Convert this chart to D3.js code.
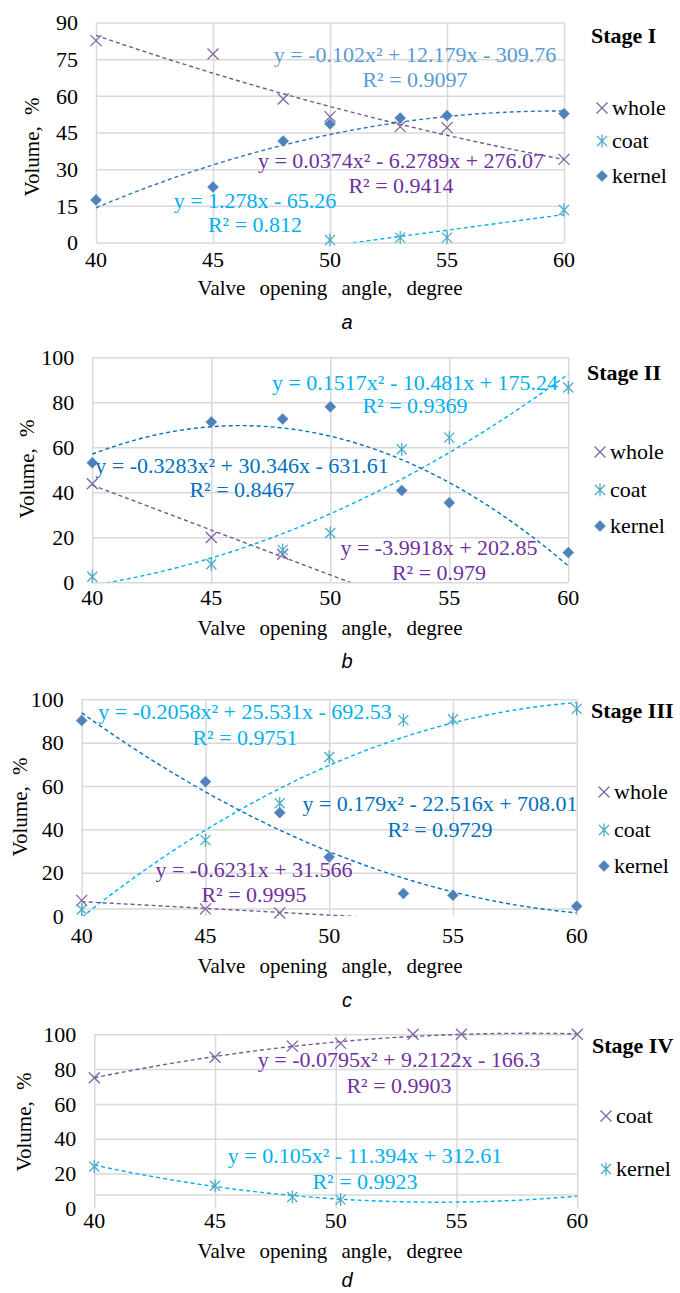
<!DOCTYPE html>
<html>
<head>
<meta charset="utf-8">
<script src="https://cdn.jsdelivr.net/npm/d3@7"></script>
<style>
  body { margin: 0; background: #fff; }
  svg { display: block; }
</style>
</head>
<body>
<svg id="chart" width="680" height="1293" font-family="'Liberation Serif', Tinos, 'Times New Roman', 'DejaVu Serif', serif"></svg>
<script>
// ---- data ----
const angles = [40, 45, 48, 50, 53, 55, 60];
const anglesIV = [40, 45, 48.2, 50.2, 53.2, 55.2, 60];
const xTicks = [40, 45, 50, 55, 60];
const yTicksI = [0, 15, 30, 45, 60, 75, 90];
const yTicks100 = [0, 20, 40, 60, 80, 100];

// Stage I
const wholeI = [82.6, 77.1, 58.7, 51.5, 47.4, 47.0, 34.0];
const coatI = [null, null, null, 1.0, 2.0, 2.0, 13.3];
const kernelI = [17.4, 22.7, 41.5, 48.5, 50.9, 51.9, 52.7];
// Stage II
const wholeII = [43.8, 19.9, 12.5, null, null, null, null];
const coatII = [2.5, 8.0, 14.4, 21.9, 59.1, 64.3, 86.6];
const kernelII = [53.1, 71.3, 72.6, 78.0, 40.8, 35.4, 13.2];
// Stage III
const wholeIII = [7.2, 3.3, 1.4, null, null, null, null];
const coatIII = [3.0, 35.0, 52.0, 73.4, 90.4, 90.8, 95.6];
const kernelIII = [90.2, 62.0, 47.7, 27.2, 10.4, 9.6, 4.5];
// Stage IV
const coatIV = [75.0, 86.8, 93.2, 94.8, 100, 100, 100];
const kernelIV = [24.0, 13.0, 6.5, 5.0, null, null, null];

// trendline coefficients [x², x, 1] and their printed labels
const fitWholeI = [0.0374, -6.2789, 276.07];
const fitCoatI = [0, 1.278, -65.26];
const fitKernelI = [-0.102, 12.179, -309.76];
const fitWholeII = [0, -3.9918, 202.85];
const fitCoatII = [0.1517, -10.481, 175.24];
const fitKernelII = [-0.3283, 30.346, -631.61];
const fitWholeIII = [0, -0.6231, 31.566];
const fitCoatIII = [-0.2058, 25.531, -692.53];
const fitKernelIII = [0.179, -22.516, 708.01];
const fitCoatIV = [-0.0795, 9.2122, -166.3];
const fitKernelIV = [0.105, -11.394, 312.61];

const eqWholeI = ["y = 0.0374x² - 6.2789x + 276.07", "R² = 0.9414"];
const eqCoatI = ["y = 1.278x - 65.26", "R² = 0.812"];
const eqKernelI = ["y = -0.102x² + 12.179x - 309.76", "R² = 0.9097"];
const eqWholeII = ["y = -3.9918x + 202.85", "R² = 0.979"];
const eqCoatII = ["y = 0.1517x² - 10.481x + 175.24", "R² = 0.9369"];
const eqKernelII = ["y = -0.3283x² + 30.346x - 631.61", "R² = 0.8467"];
const eqWholeIII = ["y = -0.6231x + 31.566", "R² = 0.9995"];
const eqCoatIII = ["y = -0.2058x² + 25.531x - 692.53", "R² = 0.9751"];
const eqKernelIII = ["y = 0.179x² - 22.516x + 708.01", "R² = 0.9729"];
const eqCoatIV = ["y = -0.0795x² + 9.2122x - 166.3", "R² = 0.9903"];
const eqKernelIV = ["y = 0.105x² - 11.394x + 312.61", "R² = 0.9923"];

// ---- styles ----
const PURPLE = "#8064A2", CYAN = "#4BACC6", BLUE = "#4F81BD";
const TR_PURPLE = "#6E5A96", TR_CYAN = "#00B0F0", TR_BLUE = "#0070C0";
const LB_PURPLE = "#7030A0", LB_CYAN = "#00B0F0", LB_BLUE = "#0070C0";
const GRID = "#D9D9D9";

const panels = [
  { stage: "Stage I", tag: "a", xs: angles, yMax: 90, yTicks: yTicksI,
    left: 96, right: 564, top: 22.5, zero: 242.5, extraLine: null,
    xLabY: 267, titleY: 295, tagY: 329, yTitle: [32, 147],
    stageXY: [591, 43], legX: 602,
    series: [
      { name: "whole", v: wholeI, m: "x", c: PURPLE, fit: fitWholeI, tc: TR_PURPLE, eq: eqWholeI, lc: LB_PURPLE, at: [401, 168, 193], leg: 115 },
      { name: "coat", v: coatI, m: "star", c: CYAN, fit: fitCoatI, tc: TR_CYAN, eq: eqCoatI, lc: LB_CYAN, at: [255, 208, 232], leg: 148 },
      { name: "kernel", v: kernelI, m: "diamond", c: BLUE, fit: fitKernelI, tc: "#2E75B6", eq: eqKernelI, lc: "#5B9BD5", at: [415, 62, 87], leg: 183 }
    ] },
  { stage: "Stage II", tag: "b", xs: angles, yMax: 100, yTicks: yTicks100,
    left: 92.3, right: 568.3, top: 357.3, zero: 582.3, extraLine: null,
    xLabY: 605, titleY: 635, tagY: 668, yTitle: [27, 469],
    stageXY: [587, 380], legX: 600,
    series: [
      { name: "whole", v: wholeII, m: "x", c: PURPLE, fit: fitWholeII, tc: TR_PURPLE, eq: eqWholeII, lc: LB_PURPLE, at: [439, 555, 580], leg: 459 },
      { name: "coat", v: coatII, m: "star", c: CYAN, fit: fitCoatII, tc: TR_CYAN, eq: eqCoatII, lc: LB_CYAN, at: [415, 390, 413], leg: 497 },
      { name: "kernel", v: kernelII, m: "diamond", c: BLUE, fit: fitKernelII, tc: TR_BLUE, eq: eqKernelII, lc: LB_BLUE, at: [242, 473, 497], leg: 533 }
    ] },
  { stage: "Stage III", tag: "c", xs: angles, yMax: 100, yTicks: yTicks100,
    left: 81.7, right: 576.7, top: 699.3, zero: 916, extraLine: 3.5,
    xLabY: 943, titleY: 973, tagY: 1007, yTitle: [20, 807],
    stageXY: [591, 718], legX: 604,
    series: [
      { name: "whole", v: wholeIII, m: "x", c: PURPLE, fit: fitWholeIII, tc: TR_PURPLE, eq: eqWholeIII, lc: LB_PURPLE, at: [254, 877, 902], leg: 799 },
      { name: "coat", v: coatIII, m: "star", c: CYAN, fit: fitCoatIII, tc: TR_CYAN, eq: eqCoatIII, lc: LB_CYAN, at: [245, 719, 745], leg: 837 },
      { name: "kernel", v: kernelIII, m: "diamond", c: BLUE, fit: fitKernelIII, tc: TR_BLUE, eq: eqKernelIII, lc: LB_BLUE, at: [440, 811, 837], leg: 873 }
    ] },
  { stage: "Stage IV", tag: "d", xs: anglesIV, yMax: 100, yTicks: yTicks100,
    left: 94.3, right: 577.3, top: 1034.3, zero: 1208.3, extraLine: 8.0,
    xLabY: 1228, titleY: 1258, tagY: 1287, yTitle: [24, 1122],
    stageXY: [592, 1053], legX: 606,
    series: [
      { name: "coat", v: coatIV, m: "x", c: PURPLE, fit: fitCoatIV, tc: TR_PURPLE, eq: eqCoatIV, lc: LB_PURPLE, at: [399, 1067, 1093], leg: 1123 },
      { name: "kernel", v: kernelIV, m: "star", c: CYAN, fit: fitKernelIV, tc: TR_CYAN, eq: eqKernelIV, lc: LB_CYAN, at: [365, 1163, 1189], leg: 1176 }
    ] }
];

const svg = d3.select("#chart");
const FS = 22;

function markerPath(m) {
  if (m === "x") return "M-5.5,-5.5L5.5,5.5M-5.5,5.5L5.5,-5.5";
  if (m === "star") return "M-5,-5L5,5M-5,5L5,-5M0,-6.5L0,6.5";
  return "M0,-5.5L5.5,0L0,5.5L-5.5,0Z";
}
function drawMarker(g, m, c, x, y) {
  g.append("path")
    .attr("transform", `translate(${x},${y})`)
    .attr("d", markerPath(m))
    .attr("fill", m === "diamond" ? c : "none")
    .attr("stroke", c)
    .attr("stroke-width", m === "diamond" ? 0.5 : 1.3);
}

panels.forEach((p, i) => {
  const x = d3.scaleLinear().domain([40, 60]).range([p.left, p.right]);
  const y = d3.scaleLinear().domain([0, p.yMax]).range([p.zero, p.top]);
  const g = svg.append("g");

  // grid
  const hTicks = p.extraLine == null ? p.yTicks : p.yTicks.filter(t => t > 0).concat([p.extraLine]);
  g.append("g")
    .call(d3.axisLeft(y).tickValues(hTicks).tickSize(-(p.right - p.left)).tickFormat(""))
    .attr("transform", `translate(${p.left},0)`)
    .call(a => a.select(".domain").remove())
    .call(a => a.selectAll("line").attr("stroke", GRID).attr("stroke-width", 1.5));
  g.append("g")
    .call(d3.axisBottom(x).tickValues(xTicks).tickSize(-(p.zero - p.top)).tickFormat(""))
    .attr("transform", `translate(0,${p.zero})`)
    .call(a => a.select(".domain").remove())
    .call(a => a.selectAll("line").attr("stroke", GRID).attr("stroke-width", 1.5));

  // tick labels
  g.selectAll(".yl").data(p.yTicks).join("text")
    .attr("x", p.left - 18).attr("y", d => y(d)).attr("dy", "0.35em")
    .attr("text-anchor", "end").attr("font-size", FS).attr("fill", "#000").text(d => d);
  g.selectAll(".xl").data(xTicks).join("text")
    .attr("x", d => x(d)).attr("y", p.xLabY)
    .attr("text-anchor", "middle").attr("font-size", FS).attr("fill", "#000").text(d => d);

  // axis titles
  g.append("text").attr("x", 330).attr("y", p.titleY)
    .attr("text-anchor", "middle").attr("font-size", 21).attr("word-spacing", 9)
    .text("Valve opening angle, degree");
  g.append("text").attr("transform", `translate(${p.yTitle[0]},${p.yTitle[1]}) rotate(-90)`)
    .attr("dy", "0.35em").attr("text-anchor", "middle").attr("font-size", 21).attr("word-spacing", 6)
    .text("Volume, %");
  g.append("text").attr("x", 347).attr("y", p.tagY).attr("text-anchor", "middle")
    .attr("font-family", "'Liberation Sans', Arial, sans-serif").attr("font-style", "italic")
    .attr("font-size", 20).text(p.tag);

  // equation labels
  p.series.forEach(s => {
    s.eq.forEach((line, k) => {
      g.append("text").attr("x", s.at[0]).attr("y", s.at[1 + k])
        .attr("text-anchor", "middle").attr("font-size", FS).attr("fill", s.lc).text(line);
    });
  });

  // trendlines
  const clipId = "clip" + i;
  svg.append("clipPath").attr("id", clipId).append("rect")
    .attr("x", p.left - 2).attr("y", p.top - 4).attr("width", p.right - p.left + 4).attr("height", p.zero - p.top + 4);
  p.series.forEach(s => {
    const f = t => s.fit[0] * t * t + s.fit[1] * t + s.fit[2];
    const line = d3.line().x(t => x(t)).y(t => y(f(t)));
    g.append("path").attr("clip-path", `url(#${clipId})`)
      .attr("d", line(d3.range(40, 60.001, 0.25)))
      .attr("fill", "none").attr("stroke", s.tc).attr("stroke-width", 1.4)
      .attr("stroke-dasharray", "4,3");
  });

  // markers
  p.series.forEach(s => {
    p.xs.forEach((a, k) => {
      if (s.v[k] == null) return;
      drawMarker(g, s.m, s.c, x(a), y(s.v[k]));
    });
  });

  // stage label and legend
  g.append("text").attr("x", p.stageXY[0]).attr("y", p.stageXY[1])
    .attr("font-size", FS).attr("font-weight", "bold").text(p.stage);
  p.series.forEach(s => {
    drawMarker(g, s.m, s.c, p.legX, s.leg - 7);
    g.append("text").attr("x", p.legX + 10).attr("y", s.leg)
      .attr("font-size", FS).text(s.name);
  });
});
</script>
</body>
</html>
